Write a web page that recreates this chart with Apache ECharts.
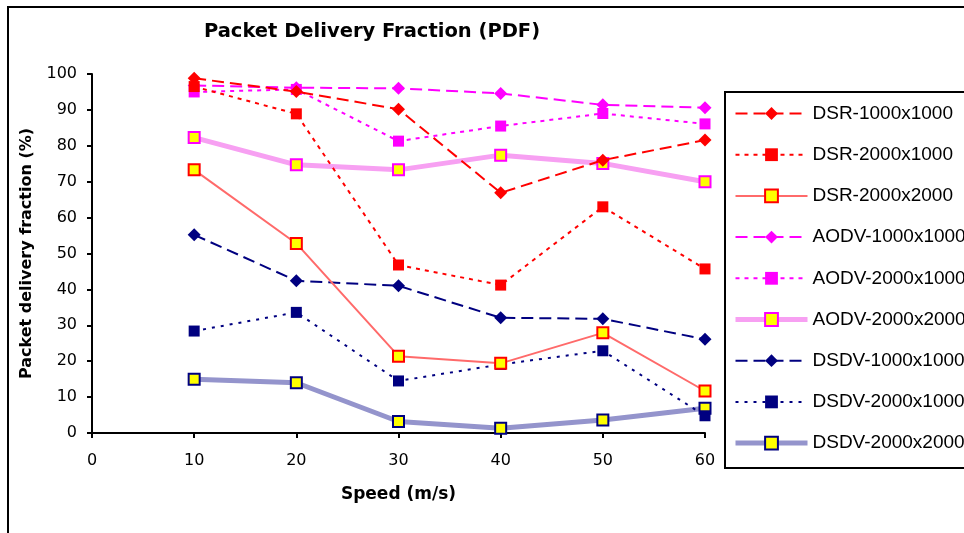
<!DOCTYPE html>
<html><head><meta charset="utf-8">
<script src="https://cdn.jsdelivr.net/npm/echarts@6/dist/echarts.min.js"></script>
<style>html,body{margin:0;padding:0;background:#fff}#c{width:964px;height:533px}</style>
</head><body><div id="c"></div>
<script>
const speeds = [10, 20, 30, 40, 50, 60];
const dsr1000x1000  = [98.8, 95.1, 90.2, 66.9, 76.0, 81.6];
const dsr2000x1000  = [96.5, 88.9, 46.8, 41.2, 63.0, 45.7];
const dsr2000x2000  = [73.3, 52.8, 21.4, 19.4, 27.9, 11.7];
const aodv1000x1000 = [96.8, 96.2, 96.0, 94.6, 91.4, 90.6];
const aodv2000x1000 = [95.0, 95.7, 81.3, 85.5, 89.0, 86.1];
const aodv2000x2000 = [82.3, 74.7, 73.3, 77.4, 75.1, 70.0];
const dsdv1000x1000 = [55.2, 42.4, 41.0, 32.1, 31.8, 26.1];
const dsdv2000x1000 = [28.4, 33.6, 14.5, 19.1, 22.9, 4.8];
const dsdv2000x2000 = [15.0, 14.0, 3.2, 1.3, 3.6, 6.9];
const names = ['DSR-1000x1000','DSR-2000x1000','DSR-2000x2000','AODV-1000x1000','AODV-2000x1000','AODV-2000x2000','DSDV-1000x1000','DSDV-2000x1000','DSDV-2000x2000'];
const values = [dsr1000x1000, dsr2000x1000, dsr2000x2000, aodv1000x1000, aodv2000x1000, aodv2000x2000, dsdv1000x1000, dsdv2000x1000, dsdv2000x2000];

const RED = '#ff0000', MAG = '#ff00ff', NAVY = '#000080';
const styles = [
  {c: RED, type: [12, 6], w: 2, sym: 'diamond', size: 13, fill: RED, bc: RED},
  {c: RED, type: [4, 5], w: 2, sym: 'rect', size: 11, fill: RED, bc: RED},
  {c: '#ff6a6a', type: 'solid', w: 2, sym: 'rect', size: 11, fill: '#ffff00', bc: RED},
  {c: MAG, type: [12, 6], w: 2, sym: 'diamond', size: 13, fill: MAG, bc: MAG},
  {c: MAG, type: [4, 5], w: 2, sym: 'rect', size: 11, fill: MAG, bc: MAG},
  {c: '#f7a0f2', type: 'solid', w: 5, sym: 'rect', size: 11, fill: '#ffff00', bc: MAG},
  {c: NAVY, type: [12, 6], w: 2, sym: 'diamond', size: 13, fill: NAVY, bc: NAVY},
  {c: NAVY, type: [3, 6], w: 2, sym: 'rect', size: 11, fill: NAVY, bc: NAVY},
  {c: '#9494cc', type: 'solid', w: 5, sym: 'rect', size: 11, fill: '#ffff00', bc: NAVY}
];

const series = names.map((n, i) => ({
  name: n,
  type: 'line',
  data: speeds.map((s, j) => [s, values[i][j]]),
  symbol: styles[i].sym,
  symbolSize: styles[i].size,
  lineStyle: {color: styles[i].c, width: styles[i].w, type: styles[i].type},
  itemStyle: {color: styles[i].fill, borderColor: styles[i].bc, borderWidth: styles[i].fill === '#ffff00' ? 2 : 0},
  z: 10 - i,
  animation: false
}));

const FONT = 'DejaVu Sans, Liberation Sans, Arial';
const chart = echarts.init(document.getElementById('c'));
chart.setOption({
  backgroundColor: '#fff',
  animation: false,
  title: {
    text: 'Packet Delivery Fraction (PDF)',
    left: 367, top: 17, textAlign: 'center',
    textStyle: {fontFamily: FONT, fontWeight: 'bold', fontSize: 19.5, color: '#000'}
  },
  grid: {left: 92, right: 259, top: 74, bottom: 100},
  xAxis: {
    type: 'value', min: 0, max: 60, interval: 10,
    name: 'Speed (m/s)', nameLocation: 'middle', nameGap: 53,
    nameTextStyle: {fontFamily: FONT, fontWeight: 'bold', fontSize: 17, color: '#000'},
    axisLine: {lineStyle: {color: '#000', width: 2}},
    axisTick: {show: true, length: 5, lineStyle: {color: '#000', width: 2}},
    axisLabel: {fontFamily: FONT, fontSize: 16, color: '#000', margin: 20},
    splitLine: {show: false}
  },
  yAxis: {
    type: 'value', min: 0, max: 100, interval: 10,
    name: 'Packet delivery fraction (%)', nameLocation: 'middle', nameGap: 57,
    nameTextStyle: {fontFamily: FONT, fontWeight: 'bold', fontSize: 16, color: '#000'},
    axisLine: {show: true, lineStyle: {color: '#000', width: 2}},
    axisTick: {show: true, length: 5, lineStyle: {color: '#000', width: 2}},
    axisLabel: {fontFamily: FONT, fontSize: 16, color: '#000', margin: 15},
    splitLine: {show: false}
  },
  legend: {
    orient: 'vertical', left: 733, top: 104, padding: 0,
    itemWidth: 72, itemHeight: 16, itemGap: 22.2,
    textStyle: {fontFamily: 'Liberation Sans, Arial', fontSize: 19, color: '#000'},
    data: names.map((n, i) => ({name: n, lineStyle: {width: styles[i].w}}))
  },
  graphic: [
    {type: 'rect', shape: {x: 8, y: 7, width: 1000, height: 600}, style: {fill: 'none', stroke: '#000', lineWidth: 2}, silent: true, z: -1},
    {type: 'rect', shape: {x: 725, y: 92, width: 300, height: 376}, style: {fill: 'none', stroke: '#000', lineWidth: 2}, silent: true}
  ],
  series: series
});
</script></body></html>
